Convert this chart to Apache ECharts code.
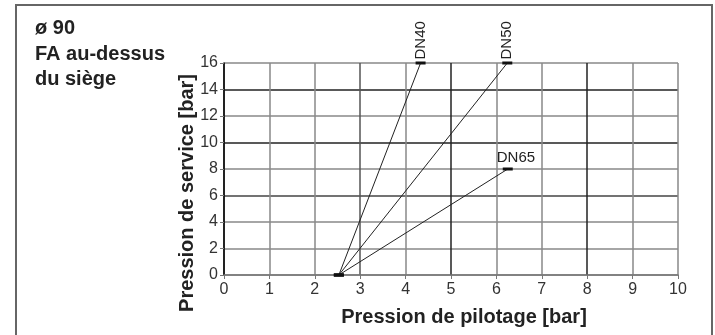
<!DOCTYPE html>
<html><head><meta charset="utf-8">
<script src="https://cdn.jsdelivr.net/npm/echarts@6/dist/echarts.min.js"></script>
<style>html,body{margin:0;padding:0;background:#fff}#c{width:715px;height:335px}</style>
</head><body><div id="c"></div>
<script>
const titleLines = ['ø 90', 'FA au-dessus', 'du siège'];
const xName = 'Pression de pilotage [bar]';
const yName = 'Pression de service [bar]';
const xTicks = [0, 1, 2, 3, 4, 5, 6, 7, 8, 9, 10];
const yTicks = [0, 2, 4, 6, 8, 10, 12, 14, 16];
const seriesNames = ['DN40', 'DN50', 'DN65'];
const startPoint = [2.53, 0];
const endPoints = [[4.33, 16], [6.24, 16], [6.25, 8]];

const font = '"Liberation Sans", Arial, Helvetica, sans-serif';
const chart = echarts.init(document.getElementById('c'), null, {renderer: 'canvas'});

const series = seriesNames.map((name, i) => {
  const rot = i < 2;
  return {
    name, type: 'line', animation: false,
    lineStyle: {color: '#222', width: 1},
    symbol: 'rect', symbolSize: [10, 3],
    itemStyle: {color: '#111'},
    showAllSymbol: true,
    data: [
      {value: startPoint},
      {value: endPoints[i],
       label: rot ? {show: true, formatter: name, position: 'top', rotate: 90, align: 'left', verticalAlign: 'middle', distance: 2, color: '#222', fontSize: 15, fontFamily: font}
                  : {show: true, formatter: name, position: 'top', align: 'left', offset: [-11, 0], distance: 2, color: '#222', fontSize: 15, fontFamily: font}}
    ]
  };
});

chart.setOption({
  backgroundColor: '#fff',
  animation: false,
  grid: {left: 224, right: 37, top: 63, bottom: 60, containLabel: false, outerBoundsMode: 'none'},
  graphic: [
    {type: 'rect', shape: {x: 16, y: 5, width: 696, height: 340}, style: {fill: 'none', stroke: '#666', lineWidth: 2}, z: -1},
    {type: 'text', left: 35, top: 16, style: {text: titleLines.join('\n'), font: 'bold 20px ' + font, lineHeight: 25.5, fill: '#222'}}
  ],
  xAxis: {
    type: 'value', min: xTicks[0], max: xTicks[xTicks.length - 1], interval: 1,
    name: xName, nameLocation: 'middle', nameGap: 32,
    nameTextStyle: {fontSize: 20, fontWeight: 'bold', fontFamily: font, color: '#222', padding: [0, 0, 0, 26]},
    axisLine: {show: true, lineStyle: {color: '#777', width: 1.5}},
    axisTick: {show: true, length: 4, lineStyle: {color: '#777'}},
    axisLabel: {fontSize: 16, color: '#333', fontFamily: font, margin: 7},
    splitLine: {show: true, lineStyle: {color: ['#222', '#888', '#888', '#555', '#888', '#222', '#888', '#888', '#222', '#888', '#888'], width: 1.5}}
  },
  yAxis: {
    type: 'value', min: yTicks[0], max: yTicks[yTicks.length - 1], interval: 2,
    name: yName, nameLocation: 'middle', nameGap: 27, nameRotate: 90, nameMoveOverlap: false,
    nameTextStyle: {fontSize: 20, fontWeight: 'bold', fontFamily: font, color: '#222', padding: [0, 48, 0, 0]},
    axisLine: {show: true, lineStyle: {color: '#111', width: 1.5}},
    axisTick: {show: true, length: 4, lineStyle: {color: '#777'}},
    axisLabel: {fontSize: 16, color: '#333', fontFamily: font, margin: 6},
    splitLine: {show: true, lineStyle: {color: ['#888', '#888', '#888', '#444', '#888', '#222', '#888', '#222', '#888'], width: 1.5}}
  },
  series
});
</script></body></html>
